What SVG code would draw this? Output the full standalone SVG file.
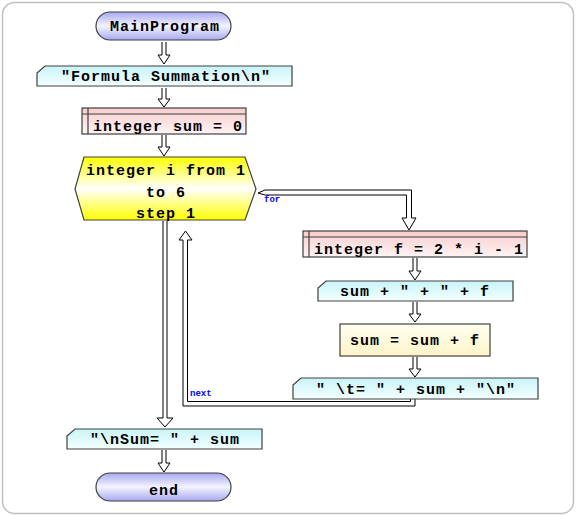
<svg xmlns="http://www.w3.org/2000/svg" width="576" height="516" viewBox="0 0 576 516">
<defs>
<linearGradient id="gPill" x1="0" y1="0" x2="0" y2="1">
<stop offset="0" stop-color="#a8a8f0"/><stop offset="0.5" stop-color="#f4f4ff"/><stop offset="1" stop-color="#a8a8f0"/>
</linearGradient>
<linearGradient id="gHex" x1="0" y1="0" x2="0" y2="1">
<stop offset="0" stop-color="#ffff00"/><stop offset="0.5" stop-color="#ffffff"/><stop offset="1" stop-color="#ffff00"/>
</linearGradient>
<linearGradient id="gCyan" x1="0" y1="0" x2="0" y2="1">
<stop offset="0" stop-color="#c8f4f8"/><stop offset="1" stop-color="#f4ffff"/>
</linearGradient>
<linearGradient id="gPink" x1="0" y1="0" x2="0" y2="1">
<stop offset="0" stop-color="#f8cccc"/><stop offset="1" stop-color="#fff4f4"/>
</linearGradient>
<linearGradient id="gYel" x1="0" y1="0" x2="0" y2="1">
<stop offset="0" stop-color="#fffff0"/><stop offset="1" stop-color="#fff4c8"/>
</linearGradient>
</defs>
<style>
.shape{stroke:#404040;stroke-width:1.2}
.t{font-family:"Liberation Mono","DejaVu Sans Mono",monospace;font-weight:bold;font-size:15px;letter-spacing:1px;fill:#000;text-anchor:middle}
.lbl{font-family:"Liberation Mono","DejaVu Sans Mono",monospace;font-weight:bold;font-size:9px;fill:#0000ff}
.arr{fill:#fff;stroke:#000;stroke-width:1}
</style>
<rect x="2.5" y="2.5" width="571" height="511" rx="12" fill="#fff" stroke="#c0c0c0" stroke-width="1.5"/>
<g id="connectors">
<path class="arr" d="M162,42 V55 H158 L164,64 L170,55 H166 V42"/>
<path class="arr" d="M162,88 V99 H158 L164,107 L170,99 H166 V88"/>
<path class="arr" d="M162,135 V147 H158 L164,156 L170,147 H166 V135"/>
<path class="arr" d="M413,258 V271 H409 L415,280 L421,271 H417 V258"/>
<path class="arr" d="M413,302 V314 H409 L415,322 L421,314 H417 V302"/>
<path class="arr" d="M413,357 V369 H409 L415,377 L421,369 H417 V357"/>
<path class="arr" d="M162,450 V463 H158 L164,472 L170,463 H166 V450"/>
<path class="arr" d="M163,221 V418 H157 L165,427 L173,418 H167 V221"/>
<path class="arr" d="M258,193 L265,190 H411.5 V218 H416 L409,230 L402,218 H406.5 V195 H265 Z"/>
<path class="arr" d="M410.5,399 V401.5 H187.5 V240 H192 L185.5,231 L179,240 H183 V406 H415 V399"/>
<text class="lbl" x="264" y="202">for</text>
<text class="lbl" x="190" y="396">next</text>
</g>
<g id="n1">
<rect class="shape" x="96" y="12" width="135" height="28" rx="14" fill="url(#gPill)"/>
<text class="t" x="165" y="31">MainProgram</text>
</g>
<g id="n2">
<path class="shape" d="M45,66 H292 V86 H37 V73 Z" fill="url(#gCyan)"/>
<text class="t" x="166" y="81">"Formula Summation\n"</text>
</g>
<g id="n3">
<rect class="shape" x="82" y="108" width="164" height="26" fill="url(#gPink)"/>
<path class="shape" d="M82,114 H246 M88,108 V134" fill="none"/>
<text class="t" x="168" y="131">integer sum = 0</text>
</g>
<g id="n4">
<path class="shape" d="M84,157 H245 L256,189 L245,220 H84 L75,189 Z" fill="url(#gHex)"/>
<text class="t" x="166" y="175">integer i from 1</text>
<text class="t" x="166" y="197">to 6</text>
<text class="t" x="166" y="218">step 1</text>
</g>
<g id="n5">
<rect class="shape" x="303" y="231" width="224" height="26" fill="url(#gPink)"/>
<path class="shape" d="M303,237 H527 M309,231 V257" fill="none"/>
<text class="t" x="419" y="254">integer f = 2 * i - 1</text>
</g>
<g id="n6">
<path class="shape" d="M326,281 H513 V301 H318 V288 Z" fill="url(#gCyan)"/>
<text class="t" x="415" y="296">sum + " + " + f</text>
</g>
<g id="n7">
<rect class="shape" x="340" y="324" width="150" height="32" fill="url(#gYel)"/>
<text class="t" x="415" y="345">sum = sum + f</text>
</g>
<g id="n8">
<path class="shape" d="M301,378 H538 V399 H293 V385 Z" fill="url(#gCyan)"/>
<text class="t" x="416" y="394">" \t= " + sum + "\n"</text>
</g>
<g id="n9">
<path class="shape" d="M75,429 H262 V449 H67 V436 Z" fill="url(#gCyan)"/>
<text class="t" x="165" y="444">"\nSum= " + sum</text>
</g>
<g id="n10">
<rect class="shape" x="96" y="473" width="135" height="28" rx="14" fill="url(#gPill)"/>
<text class="t" x="164" y="495">end</text>
</g>
</svg>
